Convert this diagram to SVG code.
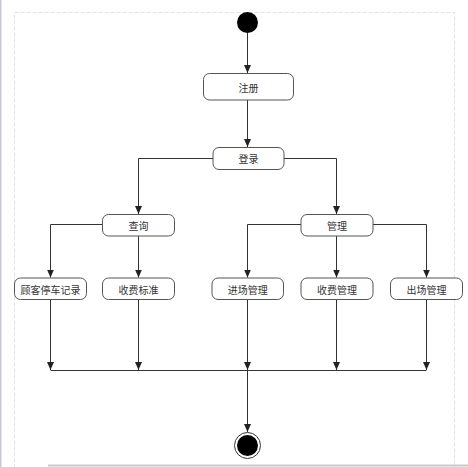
<svg xmlns="http://www.w3.org/2000/svg" width="468" height="467" viewBox="0 0 468 467">
<style>
.node rect{fill:#fff;stroke:#555;stroke-width:1}
.node text{font-family:"Noto Sans CJK SC","Liberation Sans",sans-serif;font-size:10px;fill:#333;text-anchor:middle;dominant-baseline:central}
.conn path{fill:none;stroke:#333;stroke-width:1;marker-end:url(#arr)}
.conn path.plain{marker-end:none}
</style>
<defs>
<marker id="arr" viewBox="0 0 8 10" refX="8" refY="5" markerWidth="8" markerHeight="10" markerUnits="userSpaceOnUse" orient="auto">
<path d="M0,1.5 L8,5 L0,8.5 Z" fill="#222"/>
</marker>
</defs>
<rect x="0" y="0" width="468" height="467" fill="#fff"/>
<rect x="0" y="0" width="1.5" height="467" fill="#c4c8d4"/>
<rect x="14.5" y="12.5" width="440" height="460" fill="none" stroke="#e2e2e2" stroke-dasharray="4,2"/>
<line x1="48" y1="465.5" x2="468" y2="465.5" stroke="#c8c8c8" stroke-width="2"/>
<g class="conn">
<path d="M247.5,33 V73"/>
<path d="M247.5,100 V147"/>
<path d="M213,158.5 H138.5 V214"/>
<path d="M284,158.5 H336.5 V214"/>
<path d="M102,224.5 H50.5 V277.5"/>
<path d="M138.5,236 V277.5"/>
<path d="M301,224.5 H247.5 V277.5"/>
<path d="M336.5,236 V277.5"/>
<path d="M373,224.5 H426.5 V277.5"/>
<path d="M50.5,299.5 V370"/>
<path d="M138.5,299.5 V370"/>
<path d="M247.5,299.5 V370"/>
<path d="M336.5,299.5 V370"/>
<path d="M426.5,299.5 V370"/>
<path class="plain" d="M50.5,370.5 H426.5"/>
<path d="M247.5,370.5 V432"/>
</g>
<g id="start"><circle cx="247.5" cy="22.5" r="10.5" fill="#000"/></g>
<g id="n-zhuce" class="node"><rect x="203.5" y="73.5" width="90" height="26.5" rx="6"/><text x="248.5" y="87">注册</text></g>
<g id="n-denglu" class="node"><rect x="213" y="147.5" width="71" height="22" rx="6"/><text x="248.5" y="158.5">登录</text></g>
<g id="n-chaxun" class="node"><rect x="102.5" y="214.5" width="72" height="21.5" rx="6"/><text x="138.5" y="225">查询</text></g>
<g id="n-guanli" class="node"><rect x="301" y="214.5" width="72" height="21.5" rx="6"/><text x="337" y="225">管理</text></g>
<g id="n-guke" class="node"><rect x="14.5" y="278" width="72" height="21.5" rx="6"/><text x="50.5" y="289">顾客停车记录</text></g>
<g id="n-biaozhun" class="node"><rect x="102.5" y="278" width="72" height="21.5" rx="6"/><text x="138.5" y="289">收费标准</text></g>
<g id="n-jinchang" class="node"><rect x="212" y="278" width="71.5" height="21.5" rx="6"/><text x="247.8" y="289">进场管理</text></g>
<g id="n-shoufei" class="node"><rect x="301" y="278" width="72" height="21.5" rx="6"/><text x="337" y="289">收费管理</text></g>
<g id="n-chuchang" class="node"><rect x="390.5" y="278" width="72" height="21.5" rx="6"/><text x="426.5" y="289">出场管理</text></g>
<g id="end"><circle cx="247.5" cy="445.5" r="13" fill="#fff" stroke="#333" stroke-width="1"/><circle cx="247.5" cy="445.5" r="10.5" fill="#000"/></g>
</svg>
